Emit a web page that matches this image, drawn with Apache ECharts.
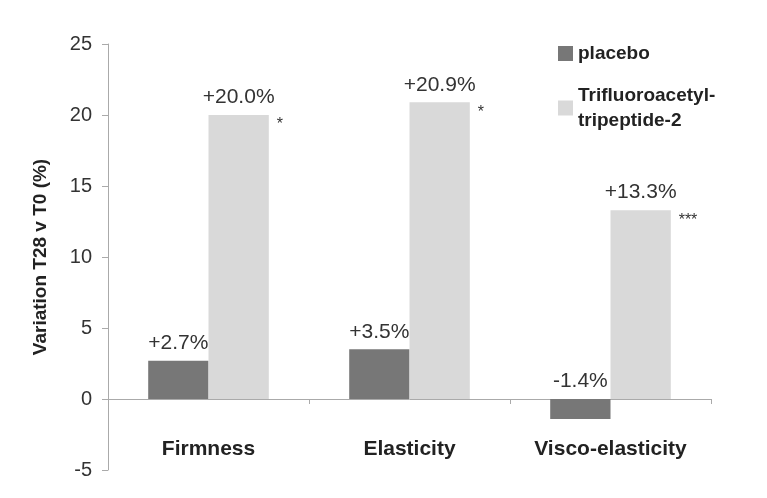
<!DOCTYPE html>
<html>
<head>
<meta charset="utf-8">
<script src="https://cdn.jsdelivr.net/npm/echarts@6/dist/echarts.min.js"></script>
<style>html,body{margin:0;padding:0;background:#fff;}#c{width:767px;height:498px;}</style>
</head>
<body>
<div id="c"></div>
<script>
const categories = ['Firmness', 'Elasticity', 'Visco-elasticity'];
const placebo = [2.7, 3.5, -1.4];
const trifluoro = [20.0, 20.9, 13.3];
const significance = ['*', '*', '***'];
const seriesNames = ['placebo', 'Trifluoroacetyl-\ntripeptide-2'];

const fmt = v => (v > 0 ? '+' : '') + v.toFixed(1) + '%';
const font = 'Liberation Sans, Arial, Helvetica, sans-serif';

const chart = echarts.init(document.getElementById('c'));
chart.setOption({
  animation: false,
  backgroundColor: '#fff',
  textStyle: { fontFamily: font },
  grid: { left: 108, right: 56, top: 44, bottom: 28, containLabel: false, outerBoundsMode: 'none' },
  legend: {
    orient: 'vertical',
    left: 553, top: 36,
    itemWidth: 15, itemHeight: 15,
    itemGap: 17,
    icon: 'rect',
    textStyle: { fontFamily: font, fontSize: 19, fontWeight: 'bold', color: '#222', lineHeight: 25 },
    data: seriesNames
  },
  xAxis: {
    type: 'category',
    data: categories,
    axisLine: { show: true, onZero: true, lineStyle: { color: '#aaa', width: 1 } },
    axisTick: { show: true, length: 5, lineStyle: { color: '#aaa' } },
    axisLabel: { margin: -31, fontSize: 21, fontWeight: 'bold', color: '#222', fontFamily: font }
  },
  yAxis: {
    type: 'value',
    min: -5, max: 25, interval: 5,
    name: 'Variation T28 v T0 (%)',
    nameLocation: 'middle',
    nameGap: 58,
    nameTextStyle: { fontSize: 19, fontWeight: 'bold', color: '#222', fontFamily: font },
    axisLine: { show: true, lineStyle: { color: '#aaa', width: 1 } },
    axisTick: { show: true, length: 6, lineStyle: { color: '#aaa' } },
    splitLine: { show: false },
    axisLabel: { margin: 16, fontSize: 20, color: '#333', fontFamily: font }
  },
  series: [
    {
      name: seriesNames[0],
      type: 'bar',
      data: placebo,
      barGap: '0%',
      barCategoryGap: '40%',
      itemStyle: { color: '#777777' },
      label: { show: true, position: 'top', distance: 7, fontSize: 21, color: '#333', fontFamily: font, formatter: p => fmt(p.value) }
    },
    {
      name: seriesNames[1],
      type: 'bar',
      data: trifluoro,
      barGap: '0%',
      barCategoryGap: '40%',
      itemStyle: { color: '#d9d9d9' },
      label: { show: true, position: 'top', distance: 7, fontSize: 21, color: '#333', fontFamily: font, formatter: p => fmt(p.value) },
      markPoint: {
        symbol: 'circle',
        symbolSize: 1,
        itemStyle: { color: 'rgba(0,0,0,0)' },
        label: { show: true, position: 'inside', align: 'left', offset: [38, 10], fontSize: 16, color: '#333', fontFamily: font, formatter: p => p.name },
        data: significance.map((s, i) => ({ name: s, coord: [i, trifluoro[i]] }))
      }
    }
  ]
});
</script>
</body>
</html>
